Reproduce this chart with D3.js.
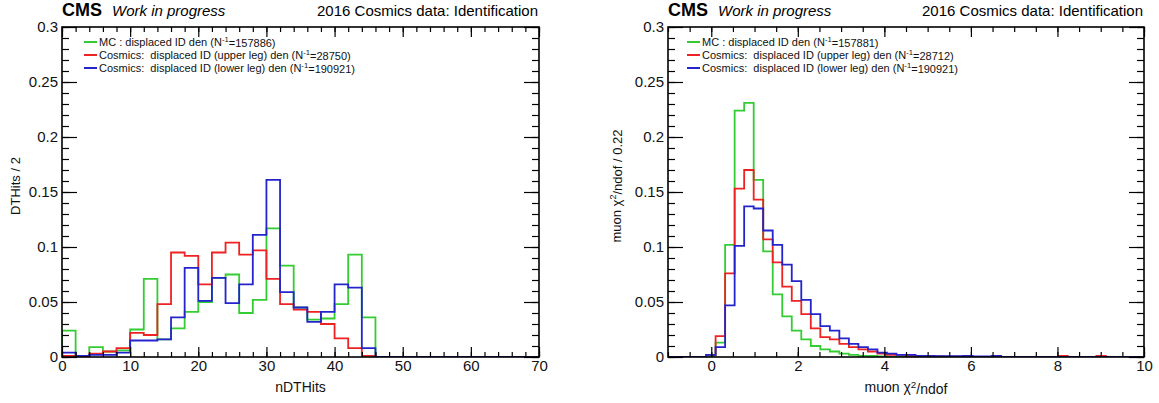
<!DOCTYPE html>
<html>
<head>
<meta charset="utf-8">
<script src="https://cdn.jsdelivr.net/npm/d3@7"></script>
<style>
  body { margin: 0; background: #fff; }
  svg { font-family: "Liberation Sans", Arial, sans-serif; }
  text { white-space: pre; }
</style>
</head>
<body>
<div id="chart"></div>
<script>
/////////////////////////////////////////////////////////
///////////////////////// Data //////////////////////////
/////////////////////////////////////////////////////////

// left panel: nDTHits, 35 bins of width 2 from 0 to 70
const hitsBinStart = 0, hitsBinWidth = 2;
const hitsMC = [0.024, 0.001, 0.009, 0.005, 0.006, 0.025, 0.071, 0.016, 0.026, 0.041,
  0.050, 0.072, 0.075, 0.040, 0.052, 0.117, 0.083, 0.045, 0.034, 0.035,
  0.048, 0.093, 0.036, 0, 0, 0, 0, 0, 0, 0, 0, 0, 0, 0, 0];
const hitsUpper = [0.001, 0, 0.003, 0.005, 0.008, 0.022, 0.020, 0.048, 0.095, 0.092,
  0.066, 0.095, 0.104, 0.093, 0.097, 0.071, 0.048, 0.043, 0.041, 0.030,
  0.017, 0.008, 0.001, 0, 0, 0, 0, 0, 0, 0, 0, 0, 0, 0, 0];
const hitsLower = [0.004, 0.001, 0.002, 0.002, 0.004, 0.015, 0.015, 0.016, 0.036, 0.081,
  0.051, 0.072, 0.049, 0.066, 0.111, 0.161, 0.059, 0.045, 0.032, 0.041,
  0.066, 0.063, 0.008, 0, 0, 0, 0, 0, 0, 0, 0, 0, 0, 0, 0];

// right panel: muon chi2/ndof, 50 bins of width 0.22 from -1 to 10
const chiBinStart = -1, chiBinWidth = 0.22;
const chiMC = [0, 0, 0, 0, 0.001, 0.013, 0.102, 0.224, 0.231, 0.161,
  0.096, 0.057, 0.037, 0.024, 0.016, 0.010, 0.007, 0.005, 0.003, 0.002,
  0.001, 0.001, 0.0005, 0, 0, 0, 0, 0, 0, 0,
  0, 0, 0, 0, 0, 0, 0, 0, 0, 0,
  0, 0, 0, 0, 0, 0, 0, 0, 0, 0];
const chiUpper = [0, 0, 0, 0, 0.002, 0.019, 0.076, 0.153, 0.170, 0.143,
  0.107, 0.086, 0.064, 0.051, 0.039, 0.026, 0.018, 0.016, 0.012, 0.009,
  0.007, 0.005, 0.003, 0.002, 0.002, 0.001, 0.001, 0.0008, 0.0005, 0.0003,
  0.0003, 0.0003, 0, 0, 0, 0, 0, 0, 0, 0,
  0, 0.001, 0, 0, 0, 0.001, 0, 0, 0, 0];
const chiLower = [0, 0, 0, 0, 0.002, 0.009, 0.047, 0.101, 0.137, 0.135,
  0.115, 0.102, 0.084, 0.069, 0.052, 0.039, 0.028, 0.024, 0.017, 0.012,
  0.009, 0.007, 0.004, 0.003, 0.002, 0.002, 0.001, 0.001, 0.0008, 0.0008,
  0.0008, 0.001, 0.0005, 0.0005, 0.001, 0, 0, 0, 0, 0,
  0, 0, 0, 0, 0, 0, 0, 0, 0, 0];

const seriesColors = ["#33cc33", "#ee2222", "#2424cc"];
const hitsLegend = [
  ["MC : displaced ID den (N", "-1", "=157886)"],
  ["Cosmics:  displaced ID (upper leg) den (N", "-1", "=28750)"],
  ["Cosmics:  displaced ID (lower leg) den (N", "-1", "=190921)"]
];
const chiLegend = [
  ["MC : displaced ID den (N", "-1", "=157881)"],
  ["Cosmics:  displaced ID (upper leg) den (N", "-1", "=28712)"],
  ["Cosmics:  displaced ID (lower leg) den (N", "-1", "=190921)"]
];
const yTicks = [0, 0.05, 0.1, 0.15, 0.2, 0.25, 0.3];

/////////////////////////////////////////////////////////
//////////////////// Container SVG //////////////////////
/////////////////////////////////////////////////////////

const svg = d3.select("#chart").append("svg")
  .attr("width", 1159)
  .attr("height", 403);

drawPanel({
  id: "hits", left: 62, top: 27, w: 477, h: 330,
  xDomain: [0, 70], xMajor: d3.range(0, 71, 10), xMinor: d3.range(0, 71, 2),
  binStart: hitsBinStart, binWidth: hitsBinWidth,
  series: [hitsMC, hitsUpper, hitsLower],
  legend: hitsLegend, legendX: 84,
  xTitle: ["nDTHits"], yTitle: ["DTHits / 2"],
  yTitleX: 15
});

drawPanel({
  id: "chi", left: 668, top: 27, w: 476, h: 330,
  xDomain: [-1, 10], xMajor: d3.range(0, 11, 2), xMinor: d3.range(-1, 10.01, 0.5),
  binStart: chiBinStart, binWidth: chiBinWidth,
  series: [chiMC, chiUpper, chiLower],
  legend: chiLegend, legendX: 687,
  xTitle: ["muon \u03c7", "2", "/ndof"], yTitle: ["muon \u03c7", "2", "/ndof / 0.22"],
  yTitleX: 616
});

/////////////////////////////////////////////////////////
//////////////////// Panel function /////////////////////
/////////////////////////////////////////////////////////

function drawPanel(cfg) {
  const x = d3.scaleLinear().domain(cfg.xDomain).range([0, cfg.w]);
  const y = d3.scaleLinear().domain([0, 0.3]).range([cfg.h, 0]);

  const g = svg.append("g")
    .attr("transform", "translate(" + cfg.left + "," + cfg.top + ")");

  g.append("clipPath").attr("id", "clip-" + cfg.id)
    .append("rect").attr("width", cfg.w).attr("height", cfg.h);

  //Histograms as step outlines
  const stepLine = d3.line()
    .x(d => x(d[0]))
    .y(d => y(d[1]))
    .curve(d3.curveStepAfter);

  cfg.series.forEach((vals, s) => {
    const pts = [[cfg.binStart, 0]];
    vals.forEach((v, i) => pts.push([cfg.binStart + i * cfg.binWidth, v]));
    const end = cfg.binStart + vals.length * cfg.binWidth;
    pts.push([end, vals[vals.length - 1]]);
    pts.push([end, 0]);
    g.append("path")
      .attr("clip-path", "url(#clip-" + cfg.id + ")")
      .attr("d", stepLine(pts))
      .style("fill", "none")
      .style("stroke", seriesColors[s])
      .style("stroke-width", 1.8);
  });

  //Frame
  g.append("rect")
    .attr("width", cfg.w).attr("height", cfg.h)
    .style("fill", "none").style("stroke", "#000").style("stroke-width", 1.6);

  //Minor ticks on all four sides
  const yMinor = d3.range(0, 0.3001, 0.01);
  const minorStyle = sel => { sel.select(".domain").remove(); sel.selectAll("line").style("stroke-width", 1.2); };
  g.append("g").attr("transform", "translate(0," + cfg.h + ")")
    .call(d3.axisBottom(x).tickValues(cfg.xMinor).tickSize(-5).tickFormat("")).call(minorStyle);
  g.append("g")
    .call(d3.axisTop(x).tickValues(cfg.xMinor).tickSize(-5).tickFormat("")).call(minorStyle);
  g.append("g")
    .call(d3.axisLeft(y).tickValues(yMinor).tickSize(-7).tickFormat("")).call(minorStyle);
  g.append("g").attr("transform", "translate(" + cfg.w + ",0)")
    .call(d3.axisRight(y).tickValues(yMinor).tickSize(-7).tickFormat("")).call(minorStyle);

  //Major ticks with labels
  const majorStyle = sel => {
    sel.select(".domain").remove();
    sel.selectAll("line").style("stroke-width", 1.2);
    sel.selectAll("text").style("font-size", "15px").style("fill", "#111")
      .style("font-family", "'Liberation Sans', Arial, sans-serif");
  };
  g.append("g").attr("transform", "translate(0," + cfg.h + ")")
    .call(d3.axisBottom(x).tickValues(cfg.xMajor).tickSize(-10).tickPadding(3)
      .tickFormat(d3.format("d"))).call(majorStyle);
  g.append("g")
    .call(d3.axisTop(x).tickValues(cfg.xMajor).tickSize(-10).tickFormat("")).call(majorStyle);
  g.append("g")
    .call(d3.axisLeft(y).tickValues(yTicks).tickSize(-15).tickPadding(4)
      .tickFormat(d => d === 0 ? "0" : String(+d.toFixed(2)))).call(majorStyle);
  g.append("g").attr("transform", "translate(" + cfg.w + ",0)")
    .call(d3.axisRight(y).tickValues(yTicks).tickSize(-15).tickFormat("")).call(majorStyle);

  //Axis titles
  const xt = g.append("text")
    .attr("x", cfg.w / 2).attr("y", cfg.h + 35)
    .attr("text-anchor", "middle")
    .style("font-size", "14px").style("fill", "#111");
  addRichText(xt, cfg.xTitle);

  const yt = svg.append("text")
    .attr("transform", "translate(" + cfg.yTitleX + ",186) rotate(-90)")
    .attr("text-anchor", "middle")
    .attr("dy", "0.35em")
    .style("font-size", "13px").style("fill", "#111");
  addRichText(yt, cfg.yTitle);

  //Header texts
  svg.append("text")
    .attr("x", cfg.left).attr("y", 16)
    .style("font-size", "18px").style("font-weight", "bold")
    .text("CMS");
  svg.append("text")
    .attr("x", cfg.left + 50).attr("y", 16)
    .style("font-size", "15px").style("font-style", "italic")
    .text("Work in progress");
  svg.append("text")
    .attr("x", cfg.left + cfg.w - 1).attr("y", 16)
    .attr("text-anchor", "end")
    .style("font-size", "15px")
    .text("2016 Cosmics data: Identification");

  //Legend
  const legend = svg.append("g");
  cfg.legend.forEach((parts, i) => {
    const ly = 42 + i * 13;
    legend.append("line")
      .attr("x1", cfg.legendX).attr("x2", cfg.legendX + 13)
      .attr("y1", ly).attr("y2", ly)
      .style("stroke", seriesColors[i]).style("stroke-width", 2);
    const t = legend.append("text")
      .attr("x", cfg.legendX + 15).attr("y", ly)
      .attr("dy", "0.35em")
      .style("font-size", "11px").style("fill", "#111");
    addRichText(t, parts);
  });
}

//Writes [normal, superscript, normal] parts into a text element
function addRichText(textSel, parts) {
  textSel.append("tspan").text(parts[0]);
  if (parts.length > 1) {
    textSel.append("tspan").attr("dy", "-0.45em").style("font-size", "0.7em").text(parts[1]);
    textSel.append("tspan").attr("dy", "0.45em").text(parts[2]);
  }
}
</script>
</body>
</html>
